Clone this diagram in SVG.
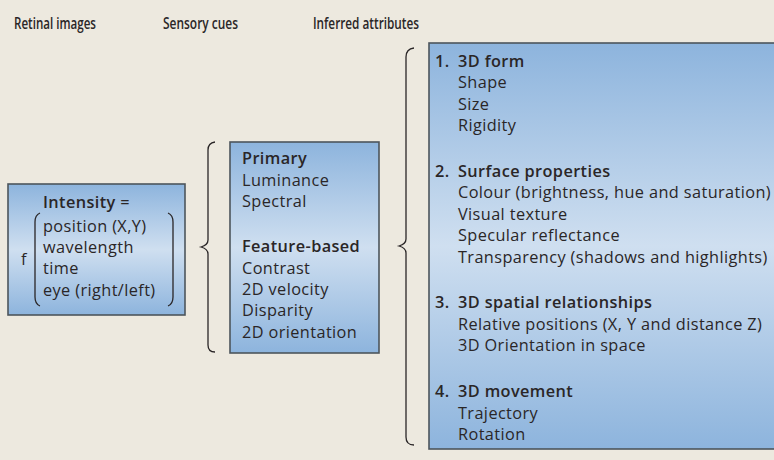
<svg xmlns="http://www.w3.org/2000/svg" width="774" height="460" viewBox="0 0 774 460">
<defs>
<linearGradient id="g" x1="0" y1="0" x2="0" y2="1">
<stop offset="0" stop-color="#8db4dd"/>
<stop offset="0.5" stop-color="#cfdff0"/>
<stop offset="1" stop-color="#8db4dd"/>
</linearGradient>
<style>
.box{fill:url(#g);stroke:#4d555c;stroke-width:1.6}
.t{font-family:"Open Sans","Noto Sans",sans-serif;font-size:16.3px;letter-spacing:0.4px;fill:#2a2627}
.b{font-weight:600}
.h{font-family:"Open Sans","Noto Sans",sans-serif;font-size:17px;font-weight:600;fill:#2a2627}
.br{fill:none;stroke:#2a2627;stroke-width:1.3}
</style>
</defs>
<rect width="774" height="460" fill="#ede9df"/>
<g id="headers">
<text class="h" x="14" y="29" textLength="82" lengthAdjust="spacingAndGlyphs">Retinal images</text>
<text class="h" x="163" y="29" textLength="75" lengthAdjust="spacingAndGlyphs">Sensory cues</text>
<text class="h" x="313" y="29" textLength="106" lengthAdjust="spacingAndGlyphs">Inferred attributes</text>
</g>
<g id="connectors">
<path class="br" d="M215,142 Q208,143 208,150 L208,240 Q208,245 201,247 Q208,249 208,254 L208,345 Q208,352 215,352"/>
<path class="br" d="M414,48 Q406,49 406,57 L406,239 Q406,244 399,246 Q406,248 406,253 L406,437 Q406,445 414,445"/>
</g>
<g id="retinal">
<rect class="box" x="8" y="184" width="177" height="131"/>
<text class="t" x="43" y="208"><tspan class="b">Intensity</tspan> =</text>
<text class="t" x="21" y="265">f</text>
<path class="br" d="M40,213 Q35,215 35,222 L35,297 Q35,304 40,306"/>
<path class="br" d="M168,213 Q173,215 173,222 L173,297 Q173,304 168,306"/>
<text class="t" x="43" y="232">position (X,Y)</text>
<text class="t" x="43" y="253">wavelength</text>
<text class="t" x="43" y="274">time</text>
<text class="t" x="43" y="296">eye (right/left)</text>
</g>
<g id="sensory">
<rect class="box" x="230" y="142" width="149" height="211"/>
<text class="t b" x="242" y="164">Primary</text>
<text class="t" x="242" y="186">Luminance</text>
<text class="t" x="242" y="207">Spectral</text>
<text class="t b" x="242" y="252">Feature-based</text>
<text class="t" x="242" y="274">Contrast</text>
<text class="t" x="242" y="295">2D velocity</text>
<text class="t" x="242" y="316">Disparity</text>
<text class="t" x="242" y="338">2D orientation</text>
</g>
<g id="inferred">
<rect class="box" x="429" y="43" width="350" height="406"/>
<text class="t b" x="435" y="67">1.</text>
<text class="t b" x="458" y="67">3D form</text>
<text class="t" x="458" y="88">Shape</text>
<text class="t" x="458" y="110">Size</text>
<text class="t" x="458" y="131">Rigidity</text>
<text class="t b" x="435" y="177">2.</text>
<text class="t b" x="458" y="177">Surface properties</text>
<text class="t" x="458" y="198">Colour (brightness, hue and saturation)</text>
<text class="t" x="458" y="220">Visual texture</text>
<text class="t" x="458" y="241">Specular reflectance</text>
<text class="t" x="458" y="263">Transparency (shadows and highlights)</text>
<text class="t b" x="435" y="308">3.</text>
<text class="t b" x="458" y="308">3D spatial relationships</text>
<text class="t" x="458" y="330">Relative positions (X, Y and distance Z)</text>
<text class="t" x="458" y="351">3D Orientation in space</text>
<text class="t b" x="435" y="397">4.</text>
<text class="t b" x="458" y="397">3D movement</text>
<text class="t" x="458" y="419">Trajectory</text>
<text class="t" x="458" y="440">Rotation</text>
</g>
</svg>
